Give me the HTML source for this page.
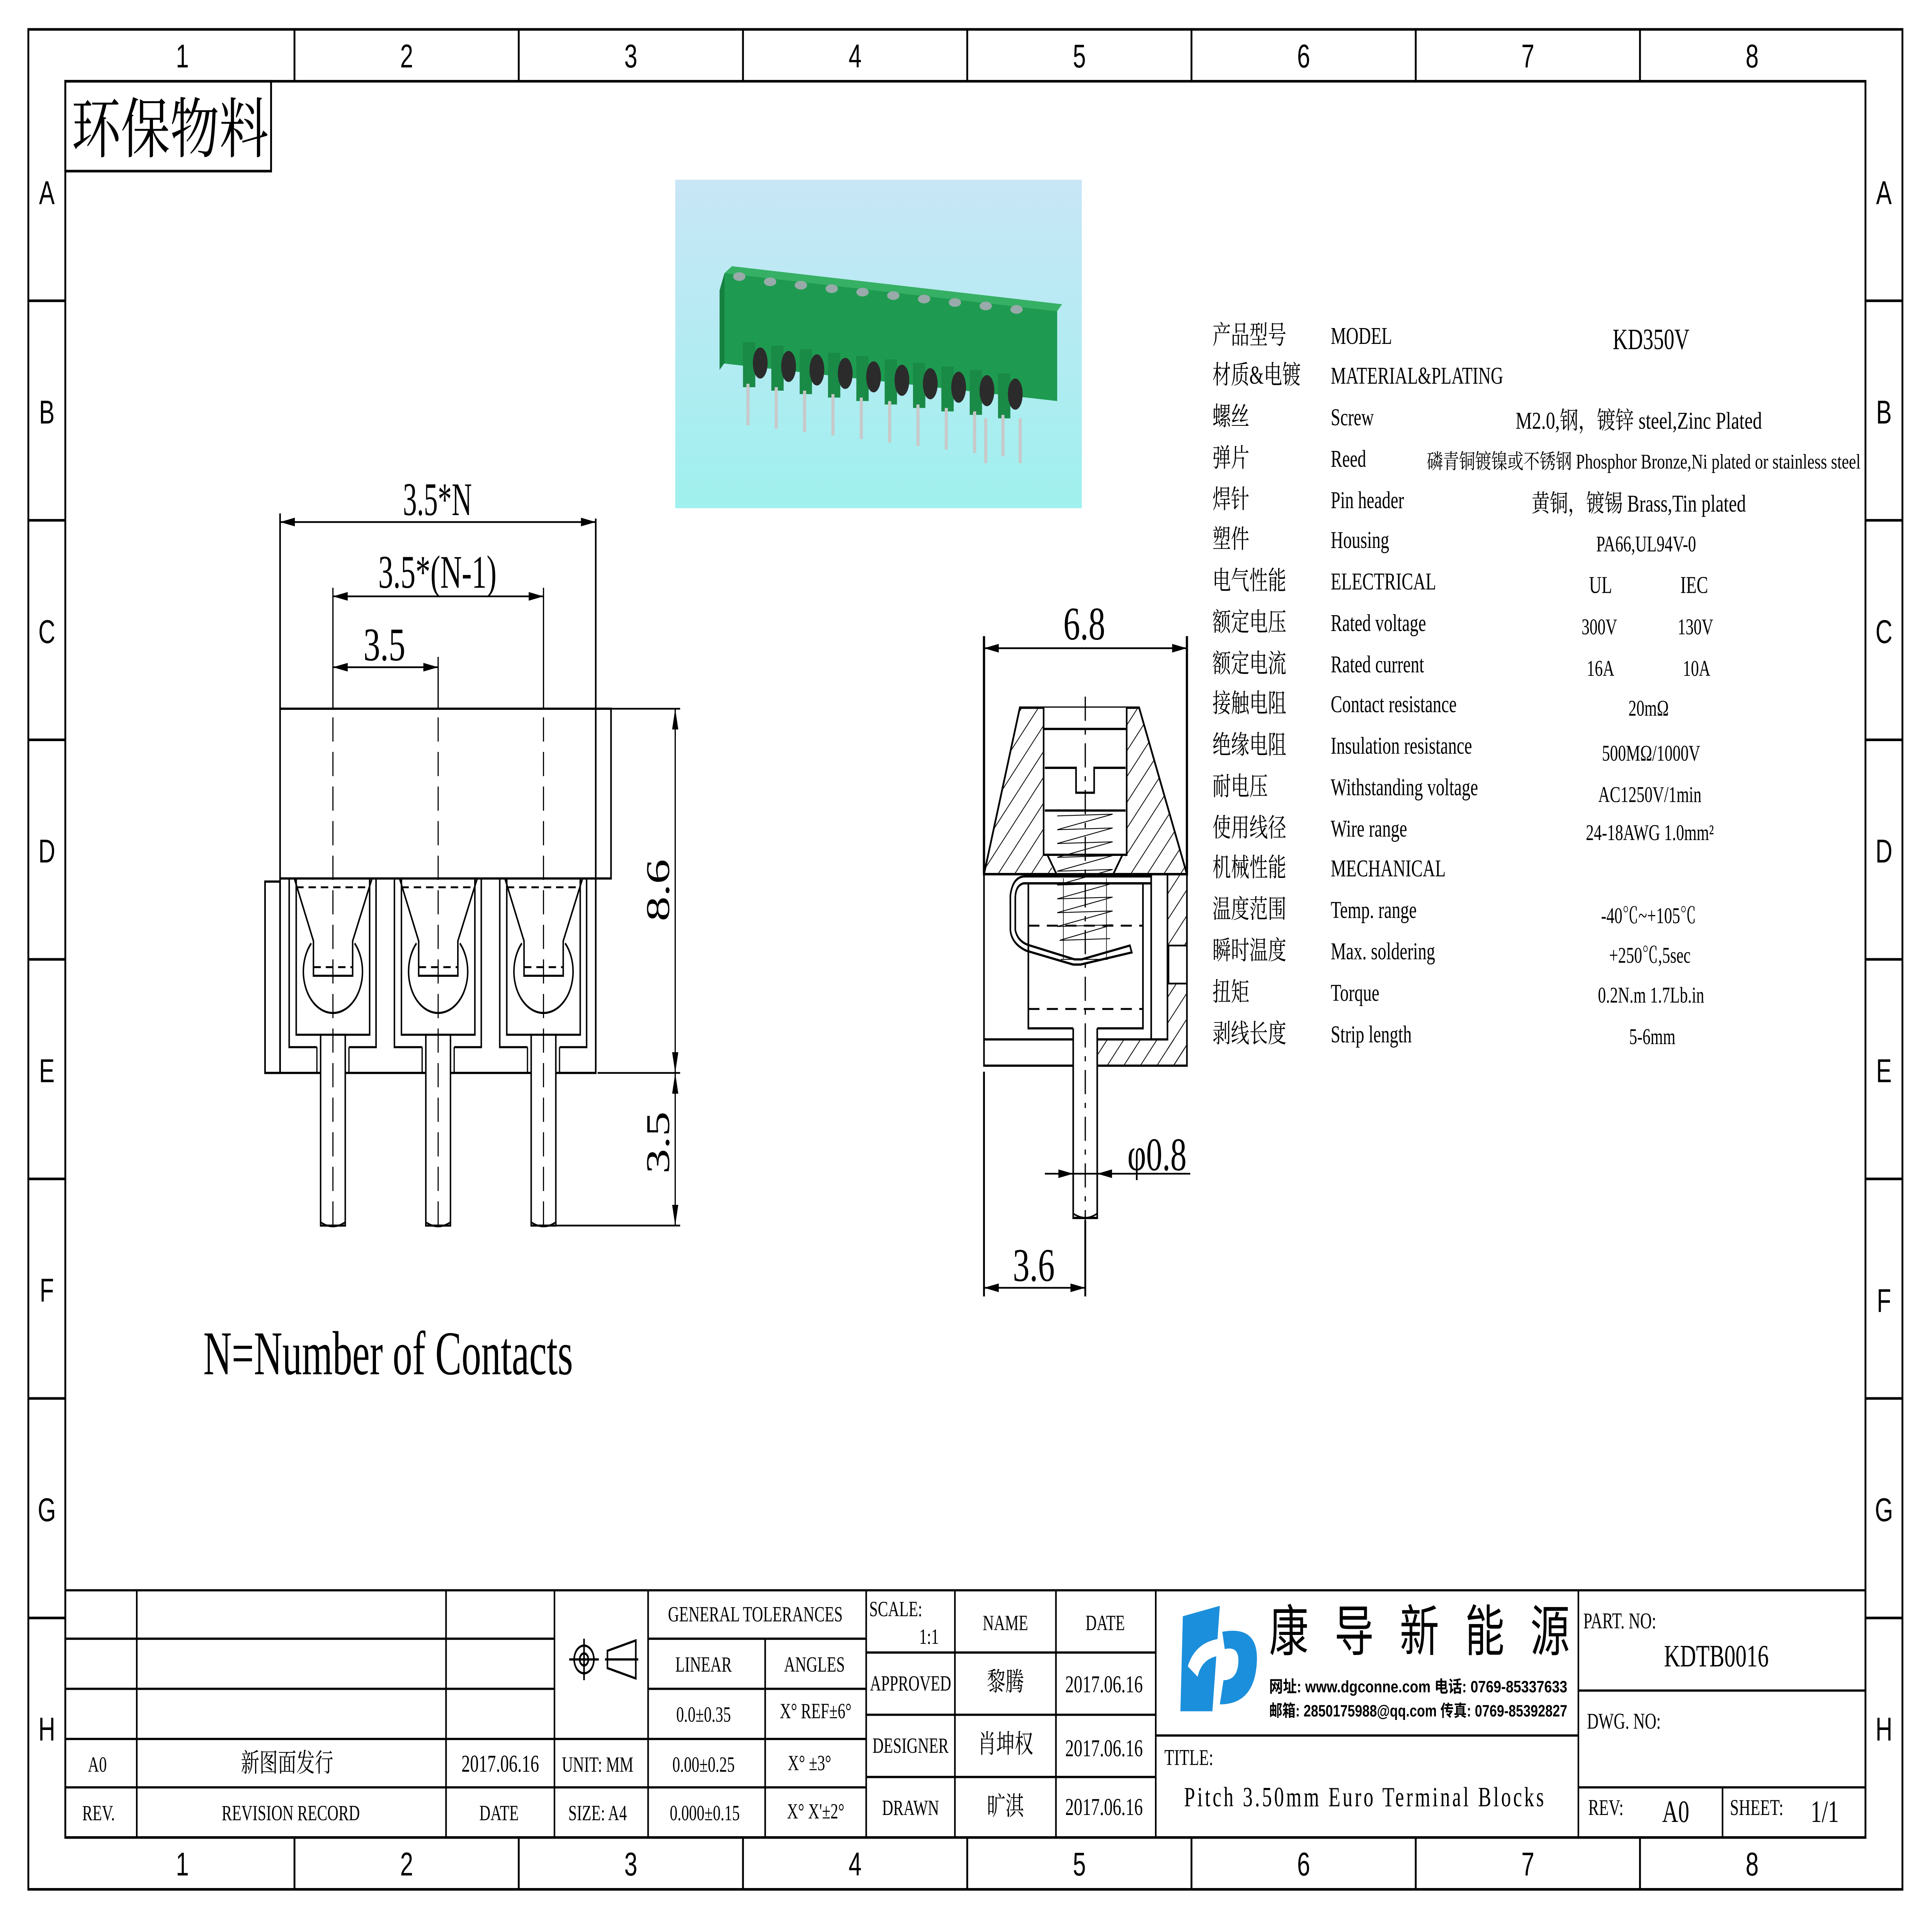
<!DOCTYPE html>
<html><head><meta charset="utf-8"><style>html,body{margin:0;padding:0;background:#fff;width:100%;height:100%;overflow:hidden}svg{display:block;position:fixed;left:0;top:0;width:100vw;height:100vh}</style></head>
<body>
<svg xmlns="http://www.w3.org/2000/svg" width="7016" height="4961" viewBox="0 0 1568 1109" preserveAspectRatio="none">
<defs>
<pattern id="h" patternUnits="userSpaceOnUse" width="10" height="10" patternTransform="rotate(-48)">
<line x1="0" y1="0" x2="10" y2="0" stroke="#000" stroke-width="1.1"/>
</pattern>
<linearGradient id="bg" x1="0" y1="0" x2="0" y2="1"><stop offset="0" stop-color="#c8e6f6"/><stop offset="1" stop-color="#9ff0ee"/></linearGradient>
<g id="ct">
<path d="M-35.5 508 V605.8 H-13 M13 605.8 H35 V508" fill="none" stroke="#000" stroke-width="1.2"/>
<path d="M-29.8 508 V598.6 H29.8 V508" fill="none" stroke="#000" stroke-width="1.2"/>
<path d="M-13 605.8 V620.7 M13 605.8 V620.7" stroke="#000" stroke-width="1"/>
<path d="M-31.4 508 L-15.8 544.4 V564.5 H16 V544.4 L31.8 508" fill="none" stroke="#000" stroke-width="1.2"/>
<path d="M-17.6 545.7 A24 24 0 1 0 17.6 545.7" fill="none" stroke="#000" stroke-width="1.2"/>
<path d="M-29.8 513.3 H29.8 M-15.8 559.5 H16" stroke="#000" stroke-width="1.1" stroke-dasharray="6,4"/>
<path d="M-10 598.6 V709 H10 V598.6 Z" fill="#fff" stroke="#000" stroke-width="1.2"/>
<path d="M-10 707 Q0 712 10 707" fill="none" stroke="#000" stroke-width="1"/>
<path d="M0 395 V712" stroke="#000" stroke-width="0.9" stroke-dasharray="14,6"/>
</g>
</defs>
<rect width="1568" height="1109" fill="#fff"/>
<g fill="none" stroke="#000" stroke-width="1.5">
<rect x="23" y="17" width="1521" height="1076"/>
<rect x="53" y="47" width="1461" height="1016"/>
<path d="M239 17V47 M421 17V47 M603 17V47 M785 17V47 M967 17V47 M1149 17V47 M1331 17V47 M239 1063V1093 M421 1063V1093 M603 1063V1093 M785 1063V1093 M967 1063V1093 M1149 1063V1093 M1331 1063V1093"/>
<path d="M23 174H53 M23 301H53 M23 428H53 M23 555H53 M23 682H53 M23 809H53 M23 936H53 M1514 174H1544 M1514 301H1544 M1514 428H1544 M1514 555H1544 M1514 682H1544 M1514 809H1544 M1514 936H1544"/>
<rect x="53" y="47" width="167" height="52"/>
</g>
<g font-family="Liberation Sans, sans-serif" font-size="19" text-anchor="middle">
<text x="148" y="39">1</text><text x="330" y="39">2</text><text x="512" y="39">3</text><text x="694" y="39">4</text><text x="876" y="39">5</text><text x="1058" y="39">6</text><text x="1240" y="39">7</text><text x="1422" y="39">8</text>
<text x="148" y="1085">1</text><text x="330" y="1085">2</text><text x="512" y="1085">3</text><text x="694" y="1085">4</text><text x="876" y="1085">5</text><text x="1058" y="1085">6</text><text x="1240" y="1085">7</text><text x="1422" y="1085">8</text>
<text x="38" y="118">A</text><text x="38" y="245">B</text><text x="38" y="372">C</text><text x="38" y="499">D</text><text x="38" y="626">E</text><text x="38" y="753">F</text><text x="38" y="880">G</text><text x="38" y="1007">H</text>
<text x="1529" y="118">A</text><text x="1529" y="245">B</text><text x="1529" y="372">C</text><text x="1529" y="499">D</text><text x="1529" y="626">E</text><text x="1529" y="759">F</text><text x="1529" y="880">G</text><text x="1529" y="1007">H</text>
</g>
<text x="58" y="88" font-family="Liberation Serif, Noto Serif CJK SC, serif" font-size="38" textLength="160" lengthAdjust="spacingAndGlyphs">环保物料</text>

<!-- photo -->
<rect x="548" y="104" width="330" height="190" fill="url(#bg)"/>
<g>
<path d="M588 158 L858 180 L858 232 L584 210 Z" fill="#1e9b50"/>
<path d="M588 158 L858 180 L862 176 L594 154 Z" fill="#36b064"/>
<path d="M584 168 L588 158 L588 210 L584 214Z" fill="#15803f"/>
<g fill="#1a8a47">
<rect x="603" y="198" width="10" height="26"/><rect x="626" y="200" width="10" height="26"/><rect x="649" y="202" width="10" height="26"/><rect x="672" y="204" width="10" height="26"/><rect x="695" y="206" width="10" height="26"/><rect x="718" y="208" width="10" height="26"/><rect x="741" y="210" width="10" height="26"/><rect x="764" y="212" width="10" height="26"/><rect x="787" y="214" width="10" height="26"/><rect x="810" y="216" width="10" height="26"/>
</g>
<g fill="#2b2b2b">
<ellipse cx="617" cy="210" rx="6" ry="9"/><ellipse cx="640" cy="212" rx="6" ry="9"/><ellipse cx="663" cy="214" rx="6" ry="9"/><ellipse cx="686" cy="216" rx="6" ry="9"/><ellipse cx="709" cy="218" rx="6" ry="9"/><ellipse cx="732" cy="220" rx="6" ry="9"/><ellipse cx="755" cy="222" rx="6" ry="9"/><ellipse cx="778" cy="224" rx="6" ry="9"/><ellipse cx="801" cy="226" rx="6" ry="9"/><ellipse cx="824" cy="228" rx="6" ry="9"/>
</g>
<g fill="#9aa">
<ellipse cx="600" cy="160" rx="5" ry="2.5"/><ellipse cx="625" cy="163" rx="5" ry="2.5"/><ellipse cx="650" cy="165" rx="5" ry="2.5"/><ellipse cx="675" cy="167" rx="5" ry="2.5"/><ellipse cx="700" cy="169" rx="5" ry="2.5"/><ellipse cx="725" cy="171" rx="5" ry="2.5"/><ellipse cx="750" cy="173" rx="5" ry="2.5"/><ellipse cx="775" cy="175" rx="5" ry="2.5"/><ellipse cx="800" cy="177" rx="5" ry="2.5"/><ellipse cx="825" cy="179" rx="5" ry="2.5"/>
</g>
<g stroke="#c8c8c8" stroke-width="2.5">
<path d="M607 222V246 M630 224V248 M653 226V250 M676 228V252 M699 230V254 M722 232V256 M745 234V258 M768 236V260 M791 238V262 M814 240V264 M828 242V268 M800 242V268"/>
</g>
</g>

<!-- front view -->
<g fill="none" stroke="#000" stroke-width="1.3">
<rect x="227.3" y="410" width="268.6" height="98.2"/>
<path d="M227.3 508 V620.7 H483.5 V300 M227.3 410 V297"/>
<rect x="215.1" y="510" width="12.2" height="110.7"/>
</g>
<use href="#ct" x="270.2"/><use href="#ct" x="355.6"/><use href="#ct" x="441.1"/>
<g stroke="#000" stroke-width="1" fill="none">
<path d="M270.2 340 V410 M441.1 340 V410 M355.6 380 V410"/>
<path d="M227.3 302 H483.5 M270.2 345 H441.1 M270.2 386 H355.6"/>
<path d="M496 410 H552 M485 620.7 H552 M450 709 H552 M548 410 V709"/>
</g>
<g fill="#000">
<path d="M227.3 302 l12 -2.5 v5z M483.5 302 l-12 -2.5 v5z M270.2 345 l12 -2.5 v5z M441.1 345 l-12 -2.5 v5z M270.2 386 l12 -2.5 v5z M355.6 386 l-12 -2.5 v5z"/>
<path d="M548 410 l-2.5 12 h5z M548 620.7 l-2.5 -12 h5z M548 620.7 l-2.5 12 h5z M548 709 l-2.5 -12 h5z"/>
</g>
<g font-family="Liberation Serif, serif" font-size="27" text-anchor="middle">
<text x="355" y="298" textLength="56" lengthAdjust="spacingAndGlyphs">3.5*N</text>
<text x="355" y="340" textLength="96" lengthAdjust="spacingAndGlyphs">3.5*(N-1)</text>
<text x="312" y="382" textLength="34" lengthAdjust="spacingAndGlyphs">3.5</text>
<text transform="translate(543,515) rotate(-90)" textLength="36" lengthAdjust="spacingAndGlyphs">8.6</text>
<text transform="translate(543,661) rotate(-90)" textLength="36" lengthAdjust="spacingAndGlyphs">3.5</text>
</g>
<text x="165" y="795" font-family="Liberation Serif, serif" font-size="36" textLength="300" lengthAdjust="spacingAndGlyphs">N=Number of Contacts</text>

<!-- side view -->
<g>
<path d="M827.7 409.4 L924.5 409.4 L963.3 505.7 L798.6 505.7 Z" fill="url(#h)" stroke="#000" stroke-width="1.4"/>
<path d="M847 409.4 H914.4 V494.5 L905 505.7 H857 L847 494.5 Z" fill="#fff"/>
<rect x="947.5" y="505.7" width="15.8" height="110.8" fill="url(#h)"/>
<rect x="890.5" y="601.3" width="73" height="15.2" fill="url(#h)"/>
<rect x="948.5" y="547" width="14.8" height="22" fill="#fff" stroke="#000" stroke-width="1"/>
<g fill="none" stroke="#000" stroke-width="1.3">
<path d="M847 409.4 V494.5 H914.4 V409.4"/>
<path d="M847 421.7 H914.4 M848 444.2 H873.3 V458.6 H888 V444.2 H913.5 M848 468.9 H913.5"/>
<path d="M850 494.5 L857.5 505.7 M911 494.5 L903.5 505.7"/>
<rect x="798.6" y="505.7" width="164.7" height="110.8"/>
<path d="M798.6 601.3 H871 M890.5 601.3 H947.5 V505.7 M934.3 505.7 V601.3"/>
<path d="M934.3 511 H834.6 V594.9 H871 M890.5 594.9 H927.6 V511"/>
<path d="M934.3 511 H831 Q824 512 824 520 V538 Q826 545 836 547 L872 555 H878 L917 547 L918.5 551 L877 558 H871 L833 550 Q821 546 820 538 V518 Q822 507 832 507 H935"/>
</g>
<g stroke="#000" stroke-width="0.5" fill="none">
<path d="M858 472 L903 471 L858 480 L903 479 L858 488 L903 487 L858 496 L903 495 L858 504 L903 503 L858 512 L903 511 L858 520 L903 519 L858 528 L903 527 L858 536 L903 535 L860 544 L901 543"/>
<path d="M863 508 V555 M898 508 V555 M861 555 H899"/>
</g>
<path d="M834.6 535.5 H927.6 M834.6 583.7 H927.6" stroke="#000" stroke-width="1.1" stroke-dasharray="9,6"/>
<path d="M871 594.9 V704.6 H890.5 V594.9" fill="#fff" stroke="#000" stroke-width="1.3"/>
<path d="M871 702 Q881 707 890.5 702" fill="none" stroke="#000" stroke-width="1"/>
<path d="M880.8 403 V712" stroke="#000" stroke-width="1" stroke-dasharray="14,5,3,5"/>
<g stroke="#000" fill="none">
<path d="M798.6 368 V505.7 M963.3 368 V505.7" stroke-width="1.8"/>
<path d="M798.6 620 V750 M880.8 706 V750" stroke-width="1.5"/>
<path d="M798.6 375 H963.3 M798.6 745 H880.8 M848 679 H966" stroke-width="1"/>
</g>
<g fill="#000">
<path d="M798.6 375 l12 -2.5 v5z M963.3 375 l-12 -2.5 v5z M798.6 745 l12 -2.5 v5z M880.8 745 l-12 -2.5 v5z M871 679 l-12 -2.5 v5z M890.5 679 l12 -2.5 v5z"/>
</g>
<g font-family="Liberation Serif, serif" font-size="27" text-anchor="middle">
<text x="880" y="370" textLength="34" lengthAdjust="spacingAndGlyphs">6.8</text>
<text x="839" y="741" textLength="34" lengthAdjust="spacingAndGlyphs">3.6</text>
<text x="939" y="677" textLength="48" lengthAdjust="spacingAndGlyphs">φ0.8</text>
</g>
</g>

<!-- spec table -->
<g font-family="Liberation Serif, Noto Serif CJK SC, serif" font-size="15">
<g>
<text x="984" y="199">产品型号</text><text x="984" y="222">材质&amp;电镀</text><text x="984" y="246">螺丝</text><text x="984" y="270">弹片</text><text x="984" y="294">焊针</text><text x="984" y="317">塑件</text><text x="984" y="341">电气性能</text><text x="984" y="365">额定电压</text><text x="984" y="389">额定电流</text><text x="984" y="412">接触电阻</text><text x="984" y="436">绝缘电阻</text><text x="984" y="460">耐电压</text><text x="984" y="484">使用线径</text><text x="984" y="507">机械性能</text><text x="984" y="531">温度范围</text><text x="984" y="555">瞬时温度</text><text x="984" y="579">扭矩</text><text x="984" y="603">剥线长度</text>
</g>
<g font-size="14">
<text x="1080" y="199">MODEL</text><text x="1080" y="222">MATERIAL&amp;PLATING</text><text x="1080" y="246">Screw</text><text x="1080" y="270">Reed</text><text x="1080" y="294">Pin header</text><text x="1080" y="317">Housing</text><text x="1080" y="341">ELECTRICAL</text><text x="1080" y="365">Rated voltage</text><text x="1080" y="389">Rated current</text><text x="1080" y="412">Contact resistance</text><text x="1080" y="436">Insulation resistance</text><text x="1080" y="460">Withstanding voltage</text><text x="1080" y="484">Wire range</text><text x="1080" y="507">MECHANICAL</text><text x="1080" y="531">Temp. range</text><text x="1080" y="555">Max. soldering</text><text x="1080" y="579">Torque</text><text x="1080" y="603">Strip length</text>
</g>
<g font-size="14" text-anchor="middle">
<text x="1340" y="202" font-size="17">KD350V</text>
<text x="1330" y="248" textLength="200" lengthAdjust="spacingAndGlyphs">M2.0,钢，镀锌 steel,Zinc Plated</text>
<text x="1334" y="271" font-size="12" textLength="352" lengthAdjust="spacingAndGlyphs">磷青铜镀镍或不锈钢 Phosphor Bronze,Ni plated or stainless steel</text>
<text x="1330" y="296" textLength="174" lengthAdjust="spacingAndGlyphs">黄铜，镀锡 Brass,Tin plated</text>
<text x="1336" y="319" font-size="13">PA66,UL94V-0</text>
<text x="1299" y="343">UL</text><text x="1375" y="343">IEC</text>
<text x="1298" y="367" font-size="13">300V</text><text x="1376" y="367" font-size="13">130V</text>
<text x="1299" y="391" font-size="13">16A</text><text x="1377" y="391" font-size="13">10A</text>
<text x="1338" y="414" font-size="13">20mΩ</text>
<text x="1340" y="440" font-size="13">500MΩ/1000V</text>
<text x="1339" y="464" font-size="13">AC1250V/1min</text>
<text x="1339" y="486" font-size="13">24-18AWG 1.0mm²</text>
<text x="1338" y="534" font-size="13">-40℃~+105℃</text>
<text x="1339" y="557" font-size="13">+250℃,5sec</text>
<text x="1340" y="580" font-size="13">0.2N.m  1.7Lb.in</text>
<text x="1341" y="604" font-size="13">5-6mm</text>
</g>
</g>

<!-- title block -->
<g fill="none" stroke="#000" stroke-width="1.3">
<path d="M53 920 H1514"/>
<path d="M53 948 H450 M53 977 H450 M53 1006 H703 M53 1034 H703 M526 948 H703 M526 977 H703"/>
<path d="M111 920 V1063 M362 920 V1063 M450 920 V1063 M526 920 V1063 M621 948 V1063 M703 920 V1063"/>
<path d="M703 956 H938 M703 992 H938 M703 1028 H938 M775 920 V1063 M857 920 V1063 M938 920 V1063"/>
<path d="M938 1004 H1281 M1281 920 V1063 M1281 978 H1514 M1281 1034 H1514 M1398 1034 V1063"/>
</g>
<g font-family="Liberation Serif, Noto Serif CJK SC, serif" font-size="12.5" text-anchor="middle">
<text x="79" y="1025">A0</text><text x="233" y="1025" font-size="15">新图面发行</text><text x="406" y="1025" font-size="14">2017.06.16</text>
<text x="80" y="1053">REV.</text><text x="236" y="1053">REVISION RECORD</text><text x="405" y="1053">DATE</text>
<text x="485" y="1025">UNIT: MM</text><text x="485" y="1053">SIZE: A4</text>
<text x="613" y="938">GENERAL TOLERANCES</text><text x="571" y="967">LINEAR</text><text x="661" y="967">ANGLES</text>
<text x="571" y="996">0.0±0.35</text><text x="662" y="994">X° REF±6°</text>
<text x="571" y="1025">0.00±0.25</text><text x="657" y="1024">X°  ±3°</text>
<text x="572" y="1053">0.000±0.15</text><text x="662" y="1052">X° X'±2°</text>
<text x="727" y="935">SCALE:</text><text x="754" y="951">1:1</text>
<text x="816" y="943">NAME</text><text x="897" y="943">DATE</text>
<text x="739" y="978">APPROVED</text><text x="816" y="978" font-size="15">黎腾</text><text x="896" y="979" font-size="14">2017.06.16</text>
<text x="739" y="1014">DESIGNER</text><text x="816" y="1014" font-size="15">肖坤权</text><text x="896" y="1016" font-size="14">2017.06.16</text>
<text x="739" y="1050">DRAWN</text><text x="816" y="1050" font-size="15">旷淇</text><text x="896" y="1050" font-size="14">2017.06.16</text>
</g>
<g font-family="Liberation Serif, serif" font-size="13">
<text x="945" y="1021">TITLE:</text>
<text x="961" y="1045" font-size="16" textLength="292" lengthAdjust="spacing">Pitch 3.50mm Euro Terminal Blocks</text>
<text x="1285" y="942">PART. NO:</text>
<text x="1393" y="964" font-size="18" text-anchor="middle">KDTB0016</text>
<text x="1288" y="1000">DWG. NO:</text>
<text x="1289" y="1050">REV:</text><text x="1360" y="1054" font-size="18" text-anchor="middle">A0</text>
<text x="1404" y="1050">SHEET:</text><text x="1481" y="1054" font-size="18" text-anchor="middle">1/1</text>
</g>
<!-- symbol -->
<g fill="none" stroke="#000" stroke-width="1.3">
<circle cx="474" cy="960" r="8"/><circle cx="474" cy="960" r="3.5"/>
<path d="M462 960 H486 M474 948 V972 M493 955 L516 949 V971 L493 965 Z M491 960 H518"/>
</g>
<!-- logo -->
<g fill="#1b8fdb">
<path d="M960 935 L990 929 L984 990 L958 990 Z"/>
<path d="M992 944 Q1022 940 1020 962 Q1018 986 990 986 L993 972 Q1004 972 1005 962 Q1006 952 994 954 Z"/>
<path d="M964 964 Q970 950 990 948 L988 958 Q975 960 972 970 Z" fill="#fff"/>
</g>
<g font-family="Liberation Sans, Noto Sans CJK SC, sans-serif" font-size="32" fill="#000">
<text x="1030" y="955">康</text><text x="1083" y="955">导</text><text x="1136" y="955">新</text><text x="1189" y="955">能</text><text x="1242" y="955">源</text>
</g>
<g font-family="Liberation Sans, Noto Sans CJK SC, sans-serif" font-size="9.5" font-weight="bold">
<text x="1030" y="979" textLength="242" lengthAdjust="spacingAndGlyphs">网址: www.dgconne.com   电话: 0769-85337633</text>
<text x="1030" y="993" textLength="242" lengthAdjust="spacingAndGlyphs">邮箱: 2850175988@qq.com 传真: 0769-85392827</text>
</g>
</svg>
</body></html>
